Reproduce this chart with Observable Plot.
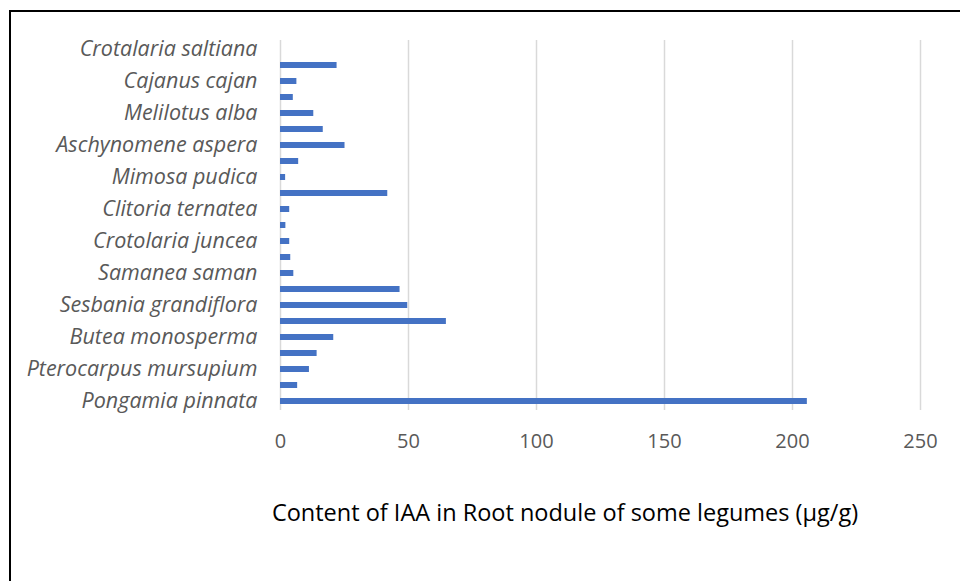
<!DOCTYPE html>
<html>
<head>
<meta charset="utf-8">
<script src="https://cdn.jsdelivr.net/npm/d3@7"></script>
<script src="https://cdn.jsdelivr.net/npm/@observablehq/plot@0.6"></script>
<style>
  html, body { margin: 0; padding: 0; background: #fff; overflow: hidden; }
  body { width: 960px; height: 581px; position: relative; font-family: "Open Sans", Lato, sans-serif; }
  #frame { position: absolute; left: 9px; top: 10px; width: 980px; height: 600px; border-left: 2px solid #000; border-top: 2px solid #000; box-sizing: border-box; }
  #chart { position: absolute; left: 0; top: 0; }
  #caption { position: absolute; left: 0; width: 1130px; top: 496px; line-height: 32px; text-align: center; font-size: 23.5px; color: #000; }
</style>
</head>
<body>
<div id="frame"></div>
<div id="chart"></div>
<div id="caption">Content of IAA in Root nodule of some legumes (μg/g)</div>
<script>
// Labelled categories (every other bar carries a label), top to bottom
const speciesLabels = [
  "Crotalaria saltiana", "Cajanus cajan", "Melilotus alba", "Aschynomene aspera",
  "Mimosa pudica", "Clitoria ternatea", "Crotolaria juncea", "Samanea saman",
  "Sesbania grandiflora", "Butea monosperma", "Pterocarpus mursupium", "Pongamia pinnata"
];
// IAA content (μg/g), top to bottom, 23 bars (first has no bar)
const iaaValues = [
  null, 22.1, 6.4, 5.0, 13.0, 16.7, 25.2, 7.1, 2.0, 41.9, 3.6, 2.1,
  3.6, 4.0, 5.2, 46.7, 49.7, 64.8, 20.8, 14.3, 11.3, 6.7, 205.8
];
const xTicks = [0, 50, 100, 150, 200, 250];

const rows = iaaValues.map((v, i) => ({ idx: i, value: v }));
const evenIdx = d3.range(0, iaaValues.length, 2);

const chart = Plot.plot({
  width: 960,
  height: 470,
  marginLeft: 280,
  marginRight: 40,
  marginTop: 40,
  marginBottom: 60,
  style: { fontFamily: "'Open Sans', Lato, sans-serif", background: "transparent", overflow: "visible" },
  x: { domain: [0, 250], ticks: xTicks },
  y: { domain: d3.range(iaaValues.length), paddingInner: 0.63, paddingOuter: 0.31 },
  marks: [
    Plot.gridX(xTicks, { stroke: "#d9d9d9", strokeOpacity: 1, strokeWidth: 1.5 }),
    Plot.barX(rows.filter(d => d.value != null), { x: "value", y: "idx", fill: "#4472C4" }),
    Plot.axisX(xTicks, {
      tickSize: 0, tickPadding: 23, fontSize: 20, fill: "#595959", label: null
    }),
    Plot.axisY(evenIdx, {
      tickSize: 0, tickPadding: 23, fontSize: 21.5, fontStyle: "italic", fill: "#595959",
      tickFormat: i => speciesLabels[i / 2], label: null
    })
  ]
});
document.getElementById("chart").appendChild(chart);
</script>
</body>
</html>
